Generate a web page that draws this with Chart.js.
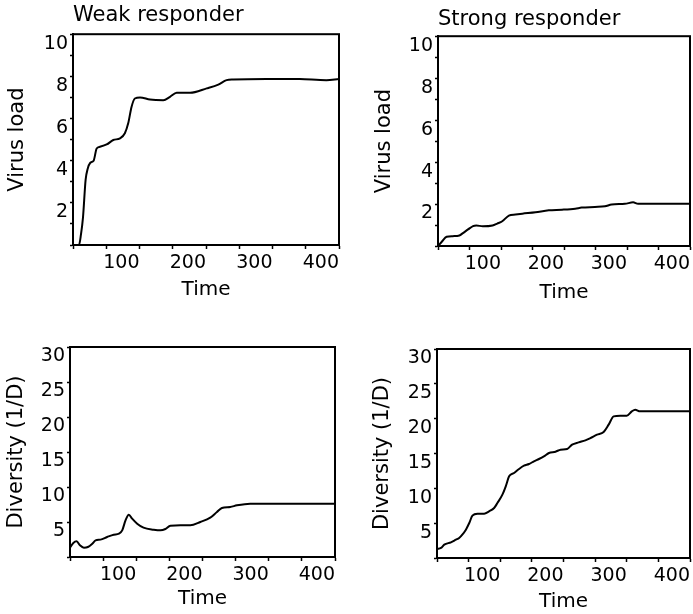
<!DOCTYPE html>
<html><head><meta charset="utf-8">
<script src="https://cdn.jsdelivr.net/npm/chart.js@4/dist/chart.umd.min.js"></script>
<style>
html,body{margin:0;padding:0;background:#fff;}
#wrap{position:relative;width:693px;height:614px;overflow:hidden;background:#fff;}
canvas{position:absolute;}
</style></head><body>
<div id="wrap">
<canvas id="c1" width="346" height="305" style="left:0;top:0"></canvas>
<canvas id="c2" width="347" height="305" style="left:346px;top:0"></canvas>
<canvas id="c3" width="346" height="309" style="left:0;top:305px"></canvas>
<canvas id="c4" width="347" height="309" style="left:346px;top:305px"></canvas>
</div>
<script>
// ---- data ----
const timeTickLabels = [100, 200, 300, 400];
const virusTickLabels = [2, 4, 6, 8, 10];
const diversityTickLabels = [5, 10, 15, 20, 25, 30];

const weakLoadTime = [0, 9, 12, 15, 19, 22, 26, 31, 35.6, 40.6, 50.6, 60.6, 70.7, 78, 83, 88, 93, 100.8, 115.8, 135.8, 145.9, 155.9, 176, 201, 218.5, 231, 241, 291, 341, 381, 400];
const weakLoad = [0, 0, 0.5, 1.3, 3.1, 3.6, 3.9, 4.0, 4.58, 4.66, 4.77, 4.98, 5.06, 5.3, 5.77, 6.55, 6.95, 7.0, 6.9, 6.87, 7.03, 7.22, 7.22, 7.43, 7.61, 7.82, 7.85, 7.88, 7.87, 7.82, 7.88];

const strongLoadTime = [0, 6, 13.7, 23.6, 34, 39, 47.7, 55.6, 60.8, 71, 86.6, 94, 102, 112.5, 123, 133.8, 154.8, 175.8, 196.8, 217.8, 228, 249, 265, 275.6, 296.6, 309.7, 317.6, 360, 400];
const strongLoad = [0, 0.2, 0.44, 0.47, 0.5, 0.6, 0.79, 0.95, 0.98, 0.94, 0.98, 1.07, 1.18, 1.45, 1.5, 1.54, 1.61, 1.7, 1.73, 1.78, 1.83, 1.86, 1.89, 1.98, 2.01, 2.08, 2.01, 2.01, 2.01];

const weakDivTime = [0, 5, 10, 15, 21, 27, 33.6, 38.6, 46, 56, 66, 73.8, 78.8, 83.8, 88.8, 93.8, 101.4, 111, 126.4, 136.5, 144, 151.5, 166.6, 181.6, 196.7, 211.7, 221.8, 229.3, 241.8, 251.9, 272, 297, 347, 400];
const weakDiv = [1.33, 2.0, 2.24, 1.67, 1.33, 1.43, 1.9, 2.38, 2.48, 2.86, 3.19, 3.33, 3.8, 5.24, 6.05, 5.48, 4.76, 4.19, 3.9, 3.81, 4.0, 4.48, 4.52, 4.52, 5.0, 5.62, 6.43, 7.0, 7.14, 7.38, 7.62, 7.62, 7.62, 7.62];

const strongDivTime = [0, 6.3, 11.5, 22, 30, 35, 40, 45.7, 51, 56, 64, 74.5, 82.4, 90.3, 95.5, 103.4, 108.7, 114, 121.8, 129.7, 137.5, 145.4, 153.3, 161.2, 169, 177, 187.4, 195.3, 205.8, 213.6, 224, 234.6, 242.5, 253, 263.5, 271.4, 279.3, 289.8, 300, 308, 313.4, 321, 400];
const strongDiv = [1.29, 1.44, 1.91, 2.25, 2.63, 2.87, 3.35, 4.07, 5.02, 6.08, 6.36, 6.36, 6.7, 7.18, 7.89, 9.09, 10.29, 11.72, 12.2, 12.78, 13.25, 13.49, 13.88, 14.21, 14.59, 15.07, 15.26, 15.55, 15.65, 16.27, 16.6, 16.89, 17.22, 17.7, 18.09, 19.14, 20.33, 20.43, 20.43, 21.05, 21.29, 21.05, 21.05];

// ---- drawing ----
const FONT = "'DejaVu Sans', sans-serif";
const framePlugin = {
  id: 'frame',
  afterDatasetsDraw(chart) {
    const {ctx, chartArea: a} = chart;
    ctx.save();
    ctx.strokeStyle = '#000';
    ctx.lineWidth = 2;
    ctx.strokeRect(a.left, a.top, a.right - a.left, a.bottom - a.top);
    ctx.restore();
  }
};

function panel(id, o) {
  return new Chart(document.getElementById(id), {
    type: 'line',
    data: {datasets: [{
      data: o.t.map((x, i) => ({x: x, y: o.v[i]})),
      borderColor: '#000', borderWidth: 2, pointRadius: 0,
      cubicInterpolationMode: 'monotone', fill: false
    }]},
    options: {
      responsive: false, animation: false, devicePixelRatio: 1,
      layout: {padding: {top: o.padTop, right: o.padRight, bottom: 0, left: 0}},
      plugins: {
        legend: {display: false}, tooltip: {enabled: false},
        title: o.title ? {display: true, text: o.title, align: 'start', fullSize: false, color: '#000',
          font: {family: FONT, size: 21, weight: 'normal', lineHeight: 1.2}, padding: {top: o.titleTop, bottom: o.titleBottom}} : {display: false}
      },
      scales: {
        x: {
          type: 'linear', min: 0, max: 400,
          afterFit(s) { s.height = o.xH; },
          ticks: {stepSize: 50, autoSkip: false, maxRotation: 0, minRotation: 0, align: 'end', padding: 3,
            color: '#000', font: {family: FONT, size: 19},
            callback: v => timeTickLabels.includes(v) ? String(v) : ''},
          grid: {drawOnChartArea: false, drawTicks: true, tickLength: 4, tickWidth: 1.5, tickColor: '#000'},
          border: {display: true, color: '#000', width: 2},
          title: {display: true, text: 'Time', color: '#000', font: {family: FONT, size: 20}, padding: {top: 0, bottom: o.xTitlePad}}
        },
        y: {
          type: 'linear', min: 0, max: o.yMax,
          afterFit(s) { s.width = o.yW; },
          ticks: {stepSize: o.yStep, autoSkip: false, align: 'start', padding: 2,
            color: '#000', font: {family: FONT, size: 19},
            callback: v => o.yLabels.includes(v) ? String(v) : ''},
          grid: {drawOnChartArea: false, drawTicks: true, tickLength: 3, tickWidth: 1.5, tickColor: '#000'},
          border: {display: true, color: '#000', width: 2},
          title: {display: true, text: o.yTitle, color: '#000', font: {family: FONT, size: 21, lineHeight: 1.2}, padding: {top: o.yTitlePad, bottom: 0}}
        }
      }
    },
    plugins: [framePlugin]
  });
}

panel('c1', {t: weakLoadTime, v: weakLoad, title: 'Weak responder', titleTop: 3, titleBottom: 6, padTop: 0, padRight: 7,
  xH: 60, yW: 73, xTitlePad: 3, yTitlePad: 5, yMax: 10, yStep: 1, yLabels: virusTickLabels, yTitle: 'Virus load'});
panel('c2', {t: strongLoadTime, v: strongLoad, title: 'Strong responder', titleTop: 7, titleBottom: 4, padTop: 0, padRight: 1,
  xH: 59, yW: 92, xTitlePad: 0, yTitlePad: 26, yMax: 10, yStep: 1, yLabels: virusTickLabels, yTitle: 'Virus load'});
panel('c3', {t: weakDivTime, v: weakDiv, title: null, padTop: 42, padRight: 11,
  xH: 57, yW: 70, xTitlePad: 3, yTitlePad: 4, yMax: 30, yStep: 5, yLabels: diversityTickLabels, yTitle: 'Diversity (1/D)'});
panel('c4', {t: strongDivTime, v: strongDiv, title: null, padTop: 44, padRight: 3,
  xH: 56, yW: 91, xTitlePad: 0, yTitlePad: 24, yMax: 30, yStep: 5, yLabels: diversityTickLabels, yTitle: 'Diversity (1/D)'});
</script>
</body></html>
